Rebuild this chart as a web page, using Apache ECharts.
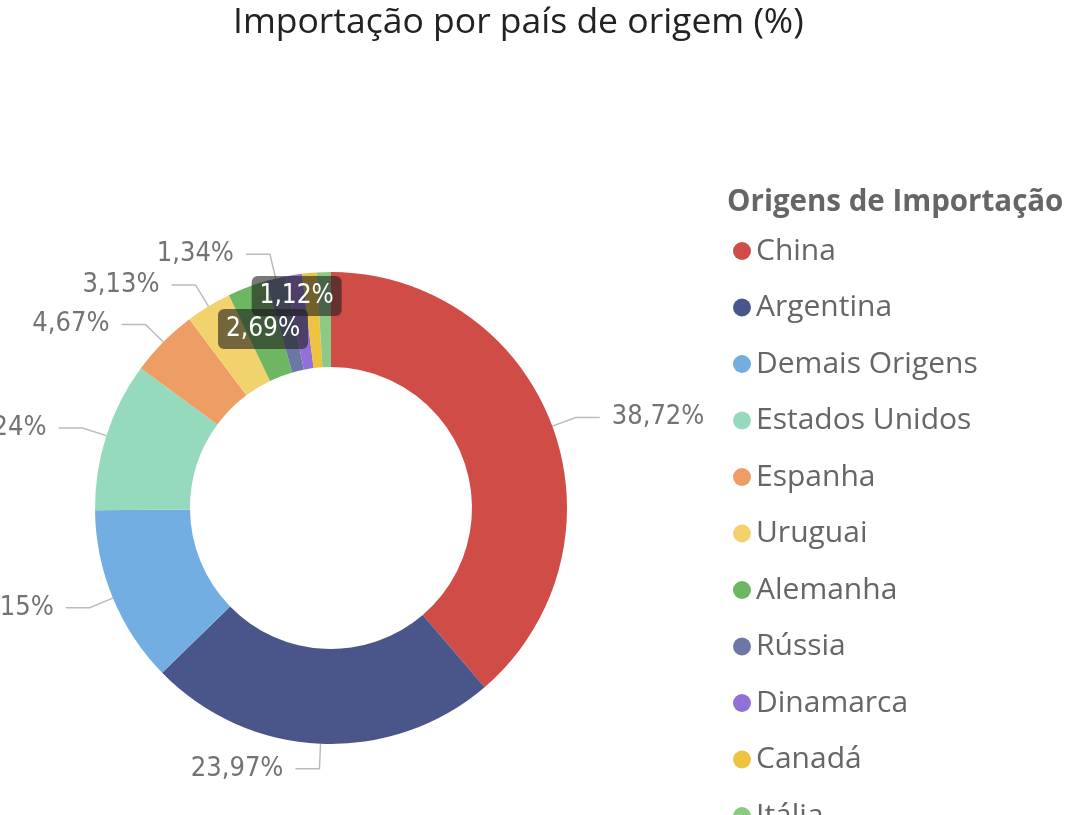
<!DOCTYPE html>
<html>
<head>
    <meta charset="utf-8"/>
    <style>
        html,body { height:100%; width:100%; margin:0; padding:0; background:#fff; }
    </style>
</head>
<body>
<div id="pie" style="width:1068px;height:815px"></div>

<script src="https://cdn.jsdelivr.net/npm/echarts@6/dist/echarts.min.js"></script>
<script type="text/javascript">

 // dados do gráfico
 var paises = ['China', 'Argentina', 'Demais Origens', 'Estados Unidos', 'Espanha', 'Uruguai',
               'Alemanha', 'Rússia', 'Dinamarca', 'Canadá', 'Itália'];
 var percentuais = [38.72, 23.97, 12.15, 10.24, 4.67, 3.13, 2.69, 1.34, 1.12, 1.00, 0.97];
 var cores = ['#D04C47', '#4A5689', '#72AEE1', '#96DABD', '#EE9D65', '#F2D26C',
              '#6DB762', '#6C78A3', '#9370D8', '#EEC33F', '#8DC884'];

 // rótulos dentro da fatia (com fundo escuro) e fatias sem rótulo
 var rotuloDentro = ['Alemanha', 'Dinamarca'];
 var semRotulo = ['Canadá', 'Itália'];

 var myPieChart = echarts.init(document.getElementById('pie'));

 var dados = paises.map(function (nome, i) {
     var item = { name: nome, value: percentuais[i], itemStyle: { color: cores[i] } };
     if (rotuloDentro.indexOf(nome) >= 0) {
         item.label = {
             position: 'inside',
             color: '#fff',
             fontSize: 26,
             width: 78,
             overflow: 'none',
             align: 'center',
             backgroundColor: 'rgba(30,30,30,0.6)',
             padding: [7, 6],
             borderRadius: 6
         };
     }
     if (semRotulo.indexOf(nome) >= 0) {
         item.label = { show: false };
         item.labelLine = { show: false };
     }
     return item;
 });

 var pieOptions = {
     animation: false,
     title: [
         {
             text: 'Importação por país de origem (%)',
             left: 228,
             top: 0,
             textStyle: { fontFamily: 'Open Sans', fontSize: 35.5, fontWeight: 'normal', color: '#222' }
         },
         {
             text: 'Origens de Importação',
             left: 722,
             top: 183,
             textStyle: { fontFamily: 'Open Sans', fontSize: 29.5, fontWeight: 'bold', color: '#666' }
         }
     ],
     legend: {
         orient: 'vertical',
         left: 728,
         top: 231,
         height: 800,
         itemWidth: 18,
         itemHeight: 18,
         itemGap: 26.5,
         icon: 'circle',
         selectedMode: false,
         data: paises,
         textStyle: { fontFamily: 'Open Sans', fontSize: 30, color: '#666', lineHeight: 30 }
     },
     series: [
         {
             name: 'Importação',
             type: 'pie',
             center: [331, 508],
             radius: [141, 236],
             startAngle: 90,
             avoidLabelOverlap: true,
             label: {
                 show: true,
                 position: 'outside',
                 fontFamily: 'DejaVu Sans Condensed',
                 fontSize: 27,
                 color: '#737373',
                 width: 120,
                 distanceToLabelLine: 12,
                 formatter: function (p) {
                     return p.value.toFixed(2).replace('.', ',') + '%';
                 }
             },
             labelLine: {
                 show: true,
                 length: 25,
                 length2: 24,
                 lineStyle: { color: '#bbb', width: 1.5 }
             },
             labelLayout: function (p) {
                 // desloca o rótulo da Dinamarca para cima, como no original
                 if (paises[p.dataIndex] === 'Dinamarca') {
                     return { dx: -4, dy: -23 };
                 }
                 return {};
             },
             data: dados
         }
     ]
 };

 myPieChart.setOption(pieOptions);
</script>
</body>
</html>
